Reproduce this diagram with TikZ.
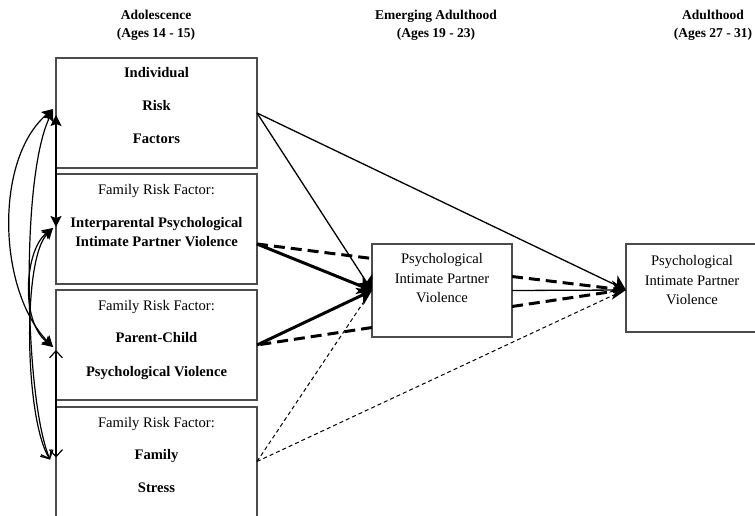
\documentclass[tikz,border=0pt]{standalone}
\usepackage{fontspec}
\setmainfont{Liberation Serif}
\usetikzlibrary{arrows.meta,calc}
\definecolor{boxgray}{gray}{0.3}
\tikzset{
  bigtip/.tip={Stealth[length=14pt 0 0,width=19pt 0 0,inset=4pt 0 0]},
  smalltip/.tip={Stealth[length=11pt 0 0,width=11pt 0 0,inset=2pt 0 0]},
  barbtip/.tip={Straight Barb[length=7pt 0 0,width=13pt 0 0]}
}
\begin{document}
\begin{tikzpicture}[x=1pt,y=-1pt,
  box/.style={draw=boxgray,line width=1.1pt,inner sep=0pt,outer sep=0pt,anchor=north west,minimum width=201pt,minimum height=110pt},
  nobox/.style={box,draw=none},
  boxline/.style={draw=boxgray,line width=1.1pt},
  txt/.style={anchor=base,inner sep=0pt,font=\fontsize{14.6}{17}\selectfont},
  btxt/.style={anchor=base,inner sep=0pt,font=\fontsize{14.6}{17}\selectfont\bfseries},
  hdr/.style={anchor=base,inner sep=0pt,font=\fontsize{13.5}{15}\selectfont\bfseries},
  solidpath/.style={line width=1.3pt,-bigtip},
  heavypath/.style={line width=3pt,-bigtip},
  heavydash/.style={line width=3pt,dash pattern=on 11pt off 6pt},
  lightdash/.style={line width=1pt,dash pattern=on 4pt off 3pt},
  corr/.style={line width=1.2pt,smalltip-smalltip},
  corropen/.style={line width=1.2pt,barbtip-barbtip},
  corrmix/.style={line width=1.2pt,smalltip-barbtip}
]
\useasboundingbox (0,0) rectangle (755,516);

% headers
\node[hdr] (h1a) at (156,20) {Adolescence};
\node[hdr] (h1b) at (156,38) {(Ages 14 - 15)};
\node[hdr] (h2a) at (436,20) {Emerging Adulthood};
\node[hdr] (h2b) at (436,38) {(Ages 19 - 23)};
\node[hdr] (h3a) at (713,20) {Adulthood};
\node[hdr] (h3b) at (713,38) {(Ages 27 - 31)};

% left boxes
\node[box] (box1) at (56,58) {};
\node[box] (box2) at (56,174) {};
\node[box] (box3) at (56,290) {};
\node[nobox,minimum height=109pt] (box4) at (56,407) {};
\draw[boxline] (box4.south west) -- (box4.north west) -- (box4.north east) -- (box4.south east);

\node[btxt] (t1a) at (156.5,78) {Individual};
\node[btxt] (t1b) at (156.5,111) {Risk};
\node[btxt] (t1c) at (156.5,144) {Factors};

\node[txt] (t2a) at (156.5,194) {Family Risk Factor:};
\node[btxt] (t2b) at (156.5,227) {Interparental Psychological};
\node[btxt] (t2c) at (156.5,246) {Intimate Partner Violence};

\node[txt] (t3a) at (156.5,310) {Family Risk Factor:};
\node[btxt] (t3b) at (156.5,342) {Parent-Child};
\node[btxt] (t3c) at (156.5,376) {Psychological Violence};

\node[txt] (t4a) at (156.5,427) {Family Risk Factor:};
\node[btxt] (t4b) at (156.5,459) {Family};
\node[btxt] (t4c) at (156.5,492) {Stress};

% middle box
\node[box,minimum width=140pt,minimum height=93pt] (mid) at (372,244) {};
\node[txt] (m1) at (442,263) {Psychological};
\node[txt] (m2) at (442,283) {Intimate Partner};
\node[txt] (m3) at (442,302) {Violence};

% right box
\node[nobox,minimum width=129pt,minimum height=88pt] (rb) at (626,244) {};
\draw[boxline] (rb.north east) -- (rb.north west) -- (rb.south west) -- (rb.south east);
\node[txt] (r1) at (692,265) {Psychological};
\node[txt] (r2) at (692,285) {Intimate Partner};
\node[txt] (r3) at (692,304) {Violence};
\coordinate (rin) at ($(rb.west)+(0,2)$);

% paths to middle
\draw[solidpath] (box1.east) -- (mid.west);
\draw[solidpath] (box1.east) -- (rin);
\draw[heavypath] ($(box2.east)+(0,15)$) -- (mid.west);
\draw[heavypath] (box3.east) -- (mid.west);
\draw[heavydash] ($(box2.east)+(0,15)$) -- ($(mid.west)+(0,-32)$);
\draw[heavydash] ($(mid.west)+(0,37)$) -- (box3.east);
\draw[lightdash] (box4.east) -- ($(mid.west)+(-6,8)$);
\draw[lightdash] (box4.east) -- ($(rin)+(-8,3)$);

% middle to right
\draw[solidpath] (mid.east) -- (rin);
\draw[heavydash] ($(mid.east)+(0,-14)$) -- ($(rin)+(-10,-1)$);
\draw[heavydash] ($(mid.east)+(0,16)$) -- ($(rin)+(-10,1)$);

% correlations on the left
\draw[corr] ($(box1.west)+(0,2)$) -- ($(box2.west)+(0,-2)$);
\draw[corropen] ($(box3.west)+(0,5)$) -- ($(box4.west)+(0,-4)$);
\draw[corr] ($(box1.west)+(-3,-4)$) .. controls (-6,160) and (-2,290) .. ($(box3.west)+(-3,2)$);
\draw[corrmix] ($(box1.west)+(-3,-3)$) .. controls (20,180) and (25,400) .. ($(box4.west)+(-6,-2)$);
\draw[corr] ($(box2.west)+(-3,-1)$) .. controls (25,250) and (20,320) .. ($(box3.west)+(-3,2)$);
\draw[corrmix] ($(box2.west)+(-3,-1)$) .. controls (22,260) and (25,420) .. ($(box4.west)+(-6,-2)$);
\end{tikzpicture}
\end{document}
